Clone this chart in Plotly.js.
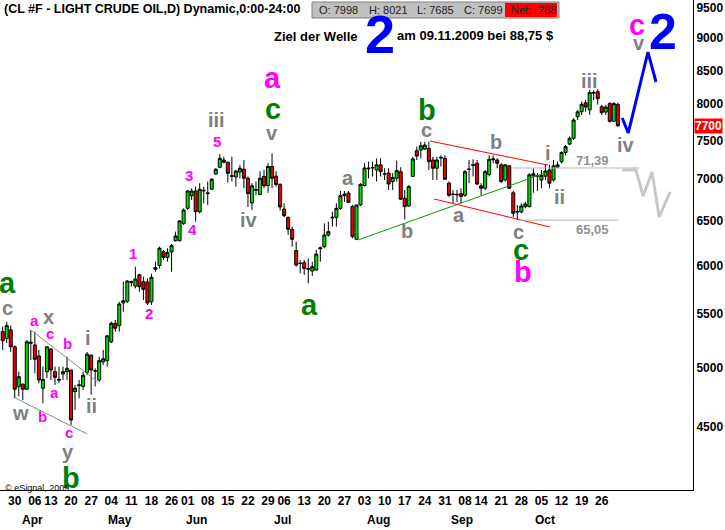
<!DOCTYPE html>
<html><head><meta charset="utf-8">
<script src="https://cdn.plot.ly/plotly-3.0.1.min.js"></script>
<style>html,body{margin:0;padding:0;background:#fff}#chart{width:725px;height:530px}</style>
</head><body><div id="chart"></div>
<script>
// trading-day index 0 = 2009-03-25 ... 153 = 2009-10-30
var openP = [5330,5266,5347,5188,4831,4852,4809,5230,5205,5104,4818,4962,5167,4962,4895,4942,4962,4977,4789,4840,
4833,4953,5112,4968,4889,5050,5061,5234,5410,5387,5610,5627,5820,5782,5900,5827,5824,5622,5957,5999,
6149,6086,6145,6270,6270,6467,6643,6795,6852,6603,6852,6830,6873,7062,7149,7242,7213,7040,7027,7088,
7123,7010,6707,6860,6810,7032,6919,7158,7036,6933,6635,6537,6399,6160,6020,6029,5965,5940,5950,6180,
6204,6334,6530,6537,6643,6795,6827,6663,6286,6683,6919,7130,7140,7114,7180,7062,7075,6969,7010,7092,
6764,6671,7032,7363,7372,7385,7394,7242,7136,7267,7263,6948,6815,6805,6820,6800,7120,7170,7201,6915,
6885,7057,7245,7242,7180,6988,7166,6830,6600,6600,6663,6663,7040,7036,6988,7036,7114,6988,7149,7221,
7340,7451,7528,7824,7894,8020,7920,8160,8180,7965,7890,8010,7760,7998];
var highP = [5378,5426,5388,5200,4962,4860,5251,5346,5330,5158,5007,5188,5173,5007,5007,5007,5098,4977,4846,4889,
4962,5140,5112,4992,5098,5158,5300,5426,5442,5622,5827,5845,5838,5985,5910,5880,5862,5910,6039,6204,
6167,6186,6234,6372,6506,6643,6864,6885,6906,6948,6906,6969,7010,7136,7318,7284,7221,7284,7114,7180,
7242,7032,6948,6969,7097,7114,7201,7327,7097,6948,6703,6545,6430,6260,6057,6057,6075,6039,6167,6204,
6467,6486,6603,6703,6852,6852,6852,6683,6683,6948,7201,7221,7221,7263,7263,7136,7136,7075,7234,7149,
6864,6927,7284,7416,7482,7482,7482,7284,7284,7302,7302,6969,6864,6864,6885,7114,7242,7251,7242,6948,
7114,7302,7302,7263,7201,7180,7180,6852,6683,6703,6719,7075,7136,7075,7114,7180,7180,7242,7221,7354,
7438,7551,7801,7919,8040,8061,8210,8200,8217,7990,7990,8030,8030,8021];
var lowP = [5158,5222,5142,4732,4750,4718,4803,5067,4947,4860,4690,4905,4889,4846,4860,4889,4889,4512,4634,4732,
4803,4931,4762,4833,4874,5022,5007,5222,5330,5330,5523,5610,5775,5758,5724,5640,5590,5590,5932,5967,
6057,6039,5932,6260,6260,6448,6623,6743,6486,6584,6703,6683,6864,7053,7136,7199,6957,6969,6906,7010,
6885,6659,6623,6800,6800,6885,6830,6885,6906,6615,6540,6334,6204,5986,5915,5898,5810,5888,5941,6039,
6186,6315,6430,6430,6623,6719,6707,6296,6278,6671,6906,7010,7032,6969,7032,6988,6864,6864,6969,6743,
6513,6663,7032,7242,7263,7372,7114,6988,6988,7158,6988,6781,6703,6719,6703,6781,6948,7032,6927,6800,
6864,7032,7199,7136,6948,6969,6885,6540,6506,6584,6643,6655,6830,6852,6885,6988,6885,6969,7149,7199,
7302,7438,7505,7778,7848,7894,7850,8060,7995,7850,7850,7740,7750,7685];
var closeP = [5244,5388,5188,4809,4918,4809,5234,5222,5073,4889,4895,5188,4977,4913,4889,4962,4992,4552,4818,4846,
4931,5120,4977,4970,5061,5078,5290,5410,5363,5600,5633,5834,5827,5855,5775,5748,5610,5873,5978,6186,
6086,6138,6215,6323,6495,6623,6852,6852,6603,6873,6860,6820,6997,7123,7263,7213,7071,7036,7101,7136,
7010,6820,6915,6870,7010,6915,7158,7010,6933,6659,6556,6399,6286,6003,6022,5967,5960,5985,6122,6190,
6334,6372,6537,6643,6795,6815,6715,6315,6683,6933,7140,7136,7145,7180,7092,7066,6937,7019,7106,6752,
6663,6906,7255,7293,7429,7438,7221,7136,7242,7275,6997,6800,6810,6810,6785,7092,7125,7180,6937,6885,
7092,7251,7255,7199,6969,7180,6885,6584,6605,6671,6695,7053,7066,7040,7045,7101,6948,7166,7180,7340,
7416,7528,7778,7894,8000,7960,8170,8170,8080,7880,7960,7760,8010,7699];

// weekly tick labels (first trading day of each week) and their day index
var tickIdx  = [3,8,12,17,22,27,32,37,42,46,51,56,61,66,70,75,80,85,90,95,100,105,110,115,119,124,129,134,139,144,149];
var tickText = ["30","06","13","20","27","04","11","18","26","01","08","15","22","29","06","13","20","27","03","10","17","24","31","08","14","21","28","05","12","19","26"];
var monthText = ["Apr","May","Jun","Jul","Aug","Sep","Oct"];
var monthIdx  = [7.5,29.2,48.3,69.7,93.4,114.3,134.9];
var yTicks = [4500,5000,5500,6000,6500,7000,7500,8000,8500,9000,9500];

// drawn wave lines (day index, price)
var lineUpperL = {x:[7.0,23.7], y:[5346,4871]};
var lineLowerL = {x:[2.6,21.0], y:[4743,4440]};
var lineGreen  = {x:[88.4,134.9], y:[6278,7076]};
var lineRedUp  = {x:[106.3,135.6], y:[7491,7177]};
var lineRedLo  = {x:[107.3,136.1], y:[6755,6425]};
var level7139  = {x:[126.9,158.3], y:[7139,7139]};
var level6505  = {x:[128.7,153.1], y:[6505,6505]};
var blueProj   = {x:[154.1,155.6,160.5,162.5], y:[7806,7600,8782,8324]};
var grayProj   = {x:[154.1,157.5,159.3,161.5,163.3,166.0], y:[7114,7114,6791,7088,6541,6840]};

// wave labels
var waveText  = ["a","c","a","x","c","b","i","a","w","b","ii","c","y","b",
  "1","2","3","4","5","iii","c","a","v","iv","a",
  "a","b","b","c","b","a","c","c","b","i","ii","71,39","65,05","iii","iv","c","v","2"];
var waveIdx   = [1.3,1.3,7.8,11.3,11.8,16.0,21.2,12.8,4.55,9.8,22.0,16.5,16.2,17.0,
  32.4,36.4,46.3,47.3,53.3,53.3,67.2,67.2,67.0,61.3,76.2,
  85.9,100.6,105.5,105.5,122.7,113.5,128.4,128.9,129.4,135.7,138.4,146.8,146.8,145.9,155.0,157.8,158.3,164.3];
var wavePrice = [5814,5561,5442,5471,5308,5223,5270,4785,4610,4577,4667,4448,4299,4104,
  6123,5501,7050,6391,7491,7778,7933,8384,7600,6506,5590,
  7013,6379,7918,7641,7478,6565,6368,6167,5929,7333,6779,7229,6402,8339,7439,9216,8924,9100];
var waveKind  = ["G","g","m","g","m","m","g","m","g","m","g","m","g","G",
  "m","m","m","m","m","g","G","M","g","g","G",
  "g","g","G","g","g","g","g","G","M","g","g","n","n","g","g","M","g","B"];

var kinds = {
  G:{c:"#008000",s:29}, M:{c:"#ff00ff",s:29}, g:{c:"#808080",s:20},
  m:{c:"#ff00ff",s:15}, n:{c:"#909090",s:13}, B:{c:"#0000ff",s:50}
};

var FONT = "Liberation Sans, Arial, sans-serif";
var traces = [{
  type:"candlestick", x: openP.map(function(_,i){return i;}),
  open:openP, high:highP, low:lowP, close:closeP,
  increasing:{line:{color:"#000",width:1}, fillcolor:"#00dd00"},
  decreasing:{line:{color:"#000",width:1}, fillcolor:"#ee0000"},
  whiskerwidth:0, hoverinfo:"skip", showlegend:false
}];
function addLine(o,color,w){
  traces.push({type:"scatter",mode:"lines",x:o.x,y:o.y,line:{color:color,width:w},hoverinfo:"skip",showlegend:false});
}
addLine(lineUpperL,"#8c8c8c",1);
addLine(lineLowerL,"#8c8c8c",1);
addLine(lineGreen,"#00a000",1);
addLine(lineRedUp,"#ff0000",1);
addLine(lineRedLo,"#ff0000",1);
addLine(level7139,"#b4b4b4",1);
addLine(level6505,"#b4b4b4",1);
addLine(blueProj,"#0000ff",3);
addLine(grayProj,"#c8c8c8",3);

var ann = [];
for (var k=0;k<waveText.length;k++){
  var kd = kinds[waveKind[k]];
  ann.push({xref:"x",yref:"y",x:waveIdx[k],y:Math.log10(wavePrice[k]),text:waveText[k],showarrow:false,
    xanchor:"center",yanchor:"middle",font:{family:FONT,size:kd.s,color:kd.c,weight:"bold"}});
}
for (var m=0;m<monthText.length;m++){
  ann.push({xref:"x",yref:"paper",x:monthIdx[m],y:0,yshift:-30,text:monthText[m],showarrow:false,
    xanchor:"center",yanchor:"middle",font:{family:FONT,size:12,color:"#000",weight:"bold"}});
}
// header texts
ann.push({xref:"paper",yref:"paper",x:0.003,y:1,yshift:-9,text:"(CL #F - LIGHT CRUDE OIL,D) Dynamic,0:00-24:00",showarrow:false,
  xanchor:"left",yanchor:"middle",font:{family:FONT,size:12.5,color:"#000",weight:"bold"}});
var infoText=["O: 7998","H: 8021","L: 7685","C: 7699","Net: -288"];
var infoX=[317,367,415,462,509];
for (var q=0;q<infoText.length;q++){
  ann.push({xref:"paper",yref:"paper",x:infoX[q]/693,y:1,yshift:-10,text:infoText[q],showarrow:false,
    xanchor:"left",yanchor:"middle",font:{family:FONT,size:11,color:"#222"}});
}
ann.push({xref:"paper",yref:"paper",x:272/693,y:1,yshift:-36,text:"Ziel der Welle",showarrow:false,
  xanchor:"left",yanchor:"middle",font:{family:FONT,size:13,color:"#000",weight:"bold"}});
ann.push({xref:"paper",yref:"paper",x:380/693,y:1,yshift:-34,text:"2",showarrow:false,
  xanchor:"center",yanchor:"middle",font:{family:FONT,size:54,color:"#0000ff",weight:"bold"}});
ann.push({xref:"paper",yref:"paper",x:395/693,y:1,yshift:-35,text:"am 09.11.2009 bei 88,75 $",showarrow:false,
  xanchor:"left",yanchor:"middle",font:{family:FONT,size:13,color:"#000",weight:"bold"}});
ann.push({xref:"paper",yref:"paper",x:0.004,y:0,yshift:2,text:"© eSignal, 2009",showarrow:false,
  xanchor:"left",yanchor:"middle",font:{family:FONT,size:9,color:"#000"}});
ann.push({xref:"paper",yref:"y",x:1,y:Math.log10(7700),xshift:1,text:"7700",showarrow:false,
  xanchor:"left",yanchor:"middle",bgcolor:"#ff0000",borderpad:0,font:{family:FONT,size:12,color:"#fff",weight:"bold"}});

var shapes = [
  {type:"rect",xref:"paper",yref:"paper",x0:312/693,x1:559/693,y0:1-18/490,y1:1-2/490,fillcolor:"#c0c0c0",line:{color:"#808080",width:1}},
  {type:"rect",xref:"paper",yref:"paper",x0:505/693,x1:557/693,y0:1-17/490,y1:1-3/490,fillcolor:"#ff0000",line:{width:0}}
];

var layout = {
  width:725,height:530,margin:{l:0,r:32,t:0,b:40},
  paper_bgcolor:"#fff",plot_bgcolor:"#fff",showlegend:false,
  boxgap:0.25, boxgroupgap:0,
  xaxis:{range:[-0.67,171.7],showgrid:false,zeroline:false,showline:true,linecolor:"#000",linewidth:1,
    tickvals:tickIdx,ticktext:tickText,ticks:"",tickfont:{family:FONT,size:12,color:"#000",weight:"bold"},
    rangeslider:{visible:false},fixedrange:true},
  yaxis:{type:"log",side:"right",range:[3.60391,3.98394],showgrid:false,zeroline:false,showline:true,linecolor:"#000",linewidth:1,
    tickvals:yTicks,ticktext:yTicks.map(String),ticks:"",tickfont:{family:FONT,size:12,color:"#000",weight:"bold"},fixedrange:true},
  annotations:ann, shapes:shapes
};
Plotly.newPlot("chart",traces,layout,{displayModeBar:false,staticPlot:true});
</script></body></html>
